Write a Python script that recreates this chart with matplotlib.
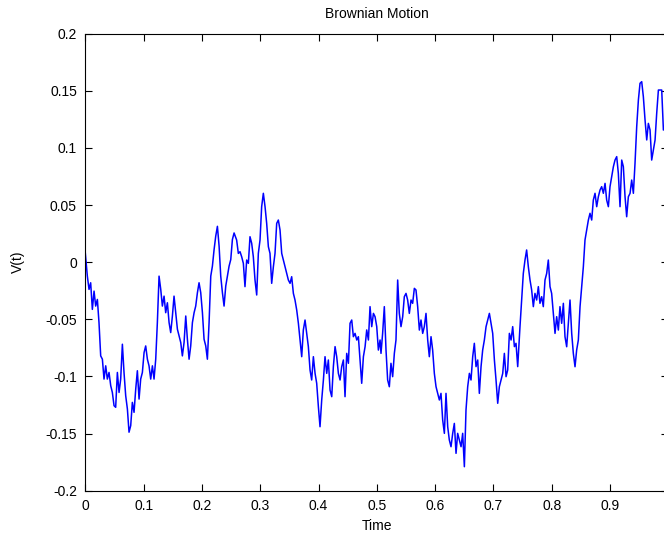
import numpy as np
import matplotlib
matplotlib.use("Agg")
import matplotlib.pyplot as plt

# values (time, V(t))
time = [
    0.0, 0.0035, 0.0064, 0.0092, 0.0121, 0.0150, 0.0178, 0.0207, 0.0235, 0.0264,
    0.0293, 0.0321, 0.0350, 0.0378, 0.0407, 0.0436, 0.0464, 0.0493, 0.0521, 0.0550,
    0.0579, 0.0607, 0.0636, 0.0664, 0.0693, 0.0722, 0.0750, 0.0779, 0.0807, 0.0836,
    0.0865, 0.0893, 0.0922, 0.0950, 0.0979, 0.1008, 0.1036, 0.1065, 0.1093, 0.1122,
    0.1151, 0.1179, 0.1208, 0.1236, 0.1265, 0.1294, 0.1322, 0.1351, 0.1379, 0.1408,
    0.1437, 0.1465, 0.1494, 0.1522, 0.1551, 0.1580, 0.1608, 0.1637, 0.1665, 0.1694,
    0.1723, 0.1751, 0.1780, 0.1808, 0.1837, 0.1866, 0.1894, 0.1923, 0.1951, 0.1980,
    0.2009, 0.2037, 0.2066, 0.2094, 0.2123, 0.2152, 0.2180, 0.2209, 0.2237, 0.2266,
    0.2295, 0.2323, 0.2352, 0.2380, 0.2409, 0.2438, 0.2466, 0.2495, 0.2523, 0.2552,
    0.2596, 0.2625, 0.2654, 0.2682, 0.2711, 0.2739, 0.2768, 0.2797, 0.2825, 0.2854,
    0.2882, 0.2911, 0.2940, 0.2968, 0.2997, 0.3025, 0.3054, 0.3083, 0.3111, 0.3140,
    0.3168, 0.3197, 0.3226, 0.3254, 0.3283, 0.3311, 0.3340, 0.3369, 0.3397, 0.3426,
    0.3454, 0.3483, 0.3512, 0.3540, 0.3569, 0.3597, 0.3626, 0.3655, 0.3683, 0.3712,
    0.3740, 0.3769, 0.3798, 0.3826, 0.3855, 0.3883, 0.3912, 0.3941, 0.3969, 0.3998,
    0.4026, 0.4055, 0.4084, 0.4112, 0.4141, 0.4169, 0.4198, 0.4227, 0.4255, 0.4284,
    0.4312, 0.4341, 0.4370, 0.4398, 0.4427, 0.4455, 0.4484, 0.4513, 0.4541, 0.4570,
    0.4598, 0.4627, 0.4656, 0.4684, 0.4713, 0.4741, 0.4770, 0.4799, 0.4827, 0.4856,
    0.4884, 0.4913, 0.4942, 0.4970, 0.4999, 0.5027, 0.5056,
    0.5072, 0.5100, 0.5129, 0.5158, 0.5186, 0.5215, 0.5243, 0.5272, 0.5301, 0.5329,
    0.5358, 0.5386, 0.5415, 0.5444, 0.5472, 0.5501, 0.5529, 0.5558, 0.5587, 0.5615,
    0.5644, 0.5672, 0.5701, 0.5730, 0.5758, 0.5787, 0.5815, 0.5844, 0.5873, 0.5901,
    0.5930, 0.5958, 0.5987, 0.6016, 0.6044, 0.6073, 0.6101, 0.6130, 0.6159, 0.6187,
    0.6216, 0.6244, 0.6273, 0.6302, 0.6330, 0.6359, 0.6387, 0.6416, 0.6445, 0.6473,
    0.6502, 0.6530, 0.6559, 0.6588, 0.6616, 0.6645, 0.6673, 0.6702, 0.6731, 0.6759,
    0.6788, 0.6816, 0.6845, 0.6874, 0.6902, 0.6931, 0.6959, 0.6988, 0.7017, 0.7045,
    0.7074, 0.7102, 0.7131, 0.7160, 0.7188, 0.7217, 0.7245, 0.7274, 0.7303, 0.7331,
    0.7360, 0.7388, 0.7417,
    0.7456, 0.7485, 0.7513, 0.7542, 0.7570, 0.7599, 0.7628, 0.7656, 0.7685, 0.7713,
    0.7742, 0.7771, 0.7799, 0.7828, 0.7856, 0.7885, 0.7914, 0.7942, 0.7971, 0.7999,
    0.8028, 0.8057, 0.8085, 0.8114, 0.8142, 0.8171, 0.8200, 0.8228, 0.8257, 0.8285,
    0.8314, 0.8343, 0.8371, 0.8400, 0.8428, 0.8457, 0.8486, 0.8514, 0.8543, 0.8571,
    0.8600, 0.8629, 0.8657, 0.8686, 0.8714, 0.8743, 0.8772, 0.8800, 0.8829, 0.8857,
    0.8886, 0.8915, 0.8943, 0.8972, 0.9000, 0.9029, 0.9058, 0.9086, 0.9115, 0.9143,
    0.9172, 0.9201, 0.9229, 0.9258, 0.9286, 0.9315, 0.9344, 0.9372, 0.9401, 0.9429,
    0.9458, 0.9487, 0.9515, 0.9544, 0.9572, 0.9601, 0.9630, 0.9658, 0.9687, 0.9715,
    0.9744, 0.9773, 0.9801, 0.9830, 0.9887, 0.9916, 1.0,
]

v = [
    0.008, -0.0122, -0.0238, -0.0180, -0.0413, -0.0253, -0.0384, -0.0326, -0.0529, -0.0820,
    -0.0849, -0.1023, -0.0907, -0.1023, -0.0965, -0.1081, -0.1140, -0.1256, -0.1270, -0.0965,
    -0.1140, -0.1023, -0.0718, -0.0965, -0.1169, -0.1285, -0.1488, -0.1430, -0.1227, -0.1314,
    -0.1110, -0.0950, -0.1198, -0.1023, -0.0965, -0.0791, -0.0733, -0.0849, -0.0907, -0.1023,
    -0.0907, -0.1023, -0.0849, -0.0529, -0.0122, -0.0238, -0.0384, -0.0297, -0.0442, -0.0355,
    -0.0529, -0.0616, -0.0471, -0.0297, -0.0442, -0.0587, -0.0645, -0.0703, -0.0820, -0.0703,
    -0.0471, -0.0674, -0.0849, -0.0733, -0.0529, -0.0442, -0.0384, -0.0267, -0.0180, -0.0267,
    -0.0442, -0.0674, -0.0733, -0.0849, -0.0529, -0.0122, -0.0035, 0.0110, 0.0227, 0.0314,
    0.0140, -0.0122, -0.0267, -0.0384, -0.0209, -0.0122, -0.0035, 0.0023, 0.0198, 0.0256,
    0.0194, 0.0077, 0.0092, 0.0048, -0.0010, -0.0214, 0.0019, -0.0010, 0.0223, 0.0165,
    0.0048, -0.0156, -0.0287, 0.0077, 0.0194, 0.0486, 0.0603, 0.0486, 0.0340, 0.0136,
    0.0077, -0.0185, -0.0039, 0.0077, 0.0340, 0.0369, 0.0282, 0.0077, 0.0019, -0.0039,
    -0.0098, -0.0156, -0.0185, -0.0127, -0.0273, -0.0331, -0.0418, -0.0535, -0.0681, -0.0827,
    -0.0593, -0.0506, -0.0623, -0.0739, -0.0944, -0.1031, -0.0827, -0.0973, -0.1060, -0.1265,
    -0.1440, -0.1206, -0.1031, -0.0827, -0.0973, -0.0856, -0.1119, -0.1177, -0.0914, -0.0739,
    -0.0827, -0.0973, -0.1031, -0.0914, -0.0856, -0.1177, -0.0798, -0.0885, -0.0535, -0.0506,
    -0.0652, -0.0623, -0.0681, -0.0652, -0.0856, -0.1060, -0.0827, -0.0739, -0.0593, -0.0681,
    -0.0389, -0.0564, -0.0448, -0.0477, -0.0564, -0.0769, -0.0681,
    -0.0798, -0.0623, -0.0389, -0.0769, -0.1031, -0.1090, -0.0885, -0.1002, -0.0798, -0.0681,
    -0.0156, -0.0448, -0.0564, -0.0477, -0.0302, -0.0273, -0.0331, -0.0448, -0.0331, -0.0360,
    -0.0229, -0.0243, -0.0389, -0.0594, -0.0506, -0.0623, -0.0564, -0.0448, -0.0681, -0.0827,
    -0.0652, -0.0769, -0.0973, -0.1090, -0.1148, -0.1206, -0.1148, -0.1381, -0.1498, -0.1148,
    -0.1440, -0.1556, -0.1615, -0.1498, -0.1411, -0.1673, -0.1498, -0.1556, -0.1615, -0.1498,
    -0.1790, -0.1294, -0.1090, -0.0973, -0.1031, -0.0827, -0.0710, -0.0914, -0.0856, -0.1148,
    -0.0914, -0.0769, -0.0681, -0.0564, -0.0506, -0.0448, -0.0535, -0.0623, -0.0856, -0.1031,
    -0.1235, -0.1090, -0.1031, -0.0973, -0.0798, -0.1002, -0.0944, -0.0623, -0.0681, -0.0564,
    -0.0739, -0.0710, -0.0914,
    -0.0565, -0.0331, -0.0098, 0.0019, 0.0107, -0.0039, -0.0156, -0.0243, -0.0389, -0.0273,
    -0.0331, -0.0214, -0.0360, -0.0302, -0.0389, -0.0156, -0.0098, 0.0019, -0.0214, -0.0273,
    -0.0448, -0.0623, -0.0477, -0.0594, -0.0389, -0.0535, -0.0360, -0.0652, -0.0740, -0.0535,
    -0.0331, -0.0623, -0.0798, -0.0915, -0.0769, -0.0681, -0.0389, -0.0214, -0.0039, 0.0194,
    0.0282, 0.0369, 0.0428, 0.0369, 0.0544, 0.0603, 0.0486, 0.0573, 0.0632, 0.0661,
    0.0603, 0.0690, 0.0544, 0.0486, 0.0661, 0.0749, 0.0836, 0.0894, 0.0924, 0.0778,
    0.0486, 0.0894, 0.0836, 0.0573, 0.0398, 0.0573, 0.0603, 0.0719, 0.0603, 0.0865,
    0.1186, 0.1420, 0.1566, 0.1580, 0.1449, 0.1245, 0.1070, 0.1215, 0.1157, 0.0894,
    0.0982, 0.1070, 0.1303, 0.1507, 0.1507, 0.1157, 0.1200,
]

xticks = [0, 0.1, 0.2, 0.3, 0.4, 0.5, 0.6, 0.7, 0.8, 0.9, 1]
xticklabels = ['0', '0.1', '0.2', '0.3', '0.4', '0.5', '0.6', '0.7', '0.8', '0.9', '1']
yticks = [-0.2, -0.15, -0.1, -0.05, 0, 0.05, 0.1, 0.15, 0.2]
yticklabels = ['-0.2', '-0.15', '-0.1', '-0.05', '0', '0.05', '0.1', '0.15', '0.2']

plt.rcParams['font.family'] = ['Liberation Sans', 'DejaVu Sans']
plt.rcParams['axes.unicode_minus'] = False

fig = plt.figure(figsize=(6.64, 5.40), dpi=100)
fig.patch.set_facecolor('white')
# axes runs a little past the right edge of the picture, like the reference
ax = fig.add_axes([85.3 / 664, 1 - 490.7 / 540, 583 / 664, 457 / 540])

ax.plot(time, v, color=(0, 0, 1), linewidth=1.1)

ax.set_xlim(0, 1)
ax.set_ylim(-0.2, 0.2)
ax.set_xticks(xticks)
ax.set_xticklabels(xticklabels)
ax.set_yticks(yticks)
ax.set_yticklabels(yticklabels)
ax.tick_params(direction='in', length=5, width=0.8, top=True, right=True,
               labelsize=10, pad=6, colors='black')
for sp in ax.spines.values():
    sp.set_linewidth(0.8)

ax.set_title('Brownian Motion', fontsize=10, pad=11)
ax.set_xlabel('Time', fontsize=10, labelpad=4)
ax.set_ylabel('V(t)', fontsize=10, labelpad=15)

fig.savefig('out.png', dpi=100)
